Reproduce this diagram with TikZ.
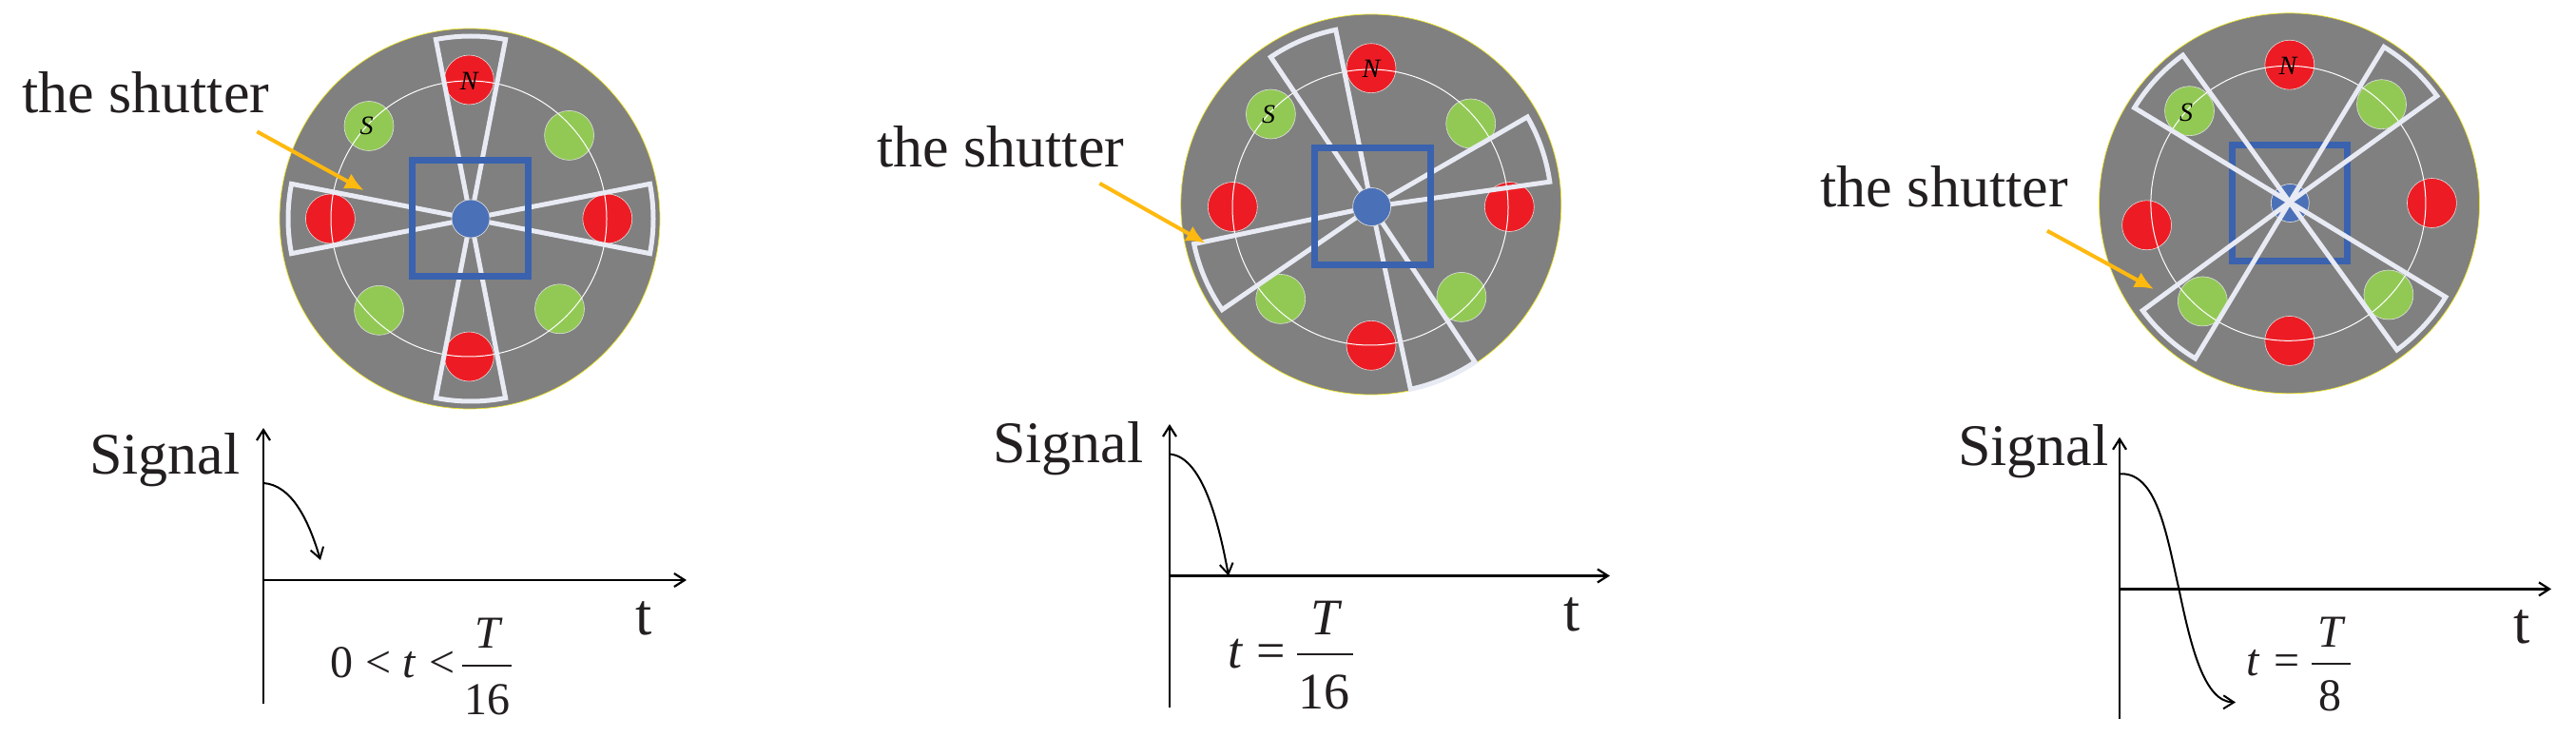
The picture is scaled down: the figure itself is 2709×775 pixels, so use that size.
\documentclass[tikz,border=0pt]{standalone}
\usepackage{fontspec}
\setmainfont{Liberation Serif}
\usetikzlibrary{arrows.meta}
\definecolor{inkc}{HTML}{231F20}
\definecolor{discc}{HTML}{808080}
\definecolor{redc}{HTML}{ED1C24}
\definecolor{greenc}{HTML}{92C955}
\definecolor{squarec}{HTML}{3A62AE}
\definecolor{hubc}{HTML}{4A70B8}
\definecolor{bladec}{HTML}{E8EAF4}
\definecolor{orangec}{HTML}{FFB90F}
\tikzset{
  disc/.style={fill=discc,draw=yellow!85!gray,line width=.7pt},
  ringline/.style={draw=white,line width=1pt},
  redpole/.style={fill=redc,draw=white!75!gray,line width=.6pt},
  greenpole/.style={fill=greenc,draw=white!75!gray,line width=.6pt},
  hubdot/.style={fill=hubc,draw=white!70!gray,line width=.7pt},
  squarebox/.style={draw=squarec,line width=7pt},
  bladeline/.style={draw=bladec,line width=5pt,line join=miter},
  pointer/.style={draw=orangec,line width=4pt,-{Latex[length=20pt,width=18pt,fill=orangec]}},
  axisline/.style={draw=black,line width=2.2pt,-{Straight Barb[length=11pt,width=14pt]}},
  curveline/.style={draw=black,line width=2pt,-{Straight Barb[length=11pt,width=14pt]}},
  fracbar/.style={draw=inkc,line width=2.4pt},
  big/.style={text=inkc,anchor=base west,inner sep=0pt,font=\fontsize{62}{62}\selectfont},
  mathp/.style={text=inkc,anchor=base,inner sep=0pt,font=\fontsize{50}{50}\selectfont},
  pole/.style={text=black,anchor=center,inner sep=0pt,font=\fontsize{28}{28}\selectfont\itshape},
}
\newcommand{\bladeshape}[5]{\draw[bladeline] (#1,-#2) -- ++(#3:#5) arc[start angle=#3,end angle=#4,radius=#5pt] -- cycle;}
\begin{document}
\begin{tikzpicture}[x=1pt,y=1pt]
\useasboundingbox (0,0) rectangle (2709,-775);

% ---- panel 1
\path[disc] (494,-230) circle[radius=200pt];
\foreach \x/\y in {493.3/84,493.3/375,347.4/230,638.8/230} \path[redpole] (\x,-\y) circle[radius=26pt];
\foreach \x/\y in {388/132.5,598.6/142.4,398.6/326.3,588.5/324.8} \path[greenpole] (\x,-\y) circle[radius=26pt];
\path[ringline] (493,-230) circle[radius=145pt];
\bladeshape{495}{230}{79}{101}{192}
\bladeshape{495}{230}{169}{191}{192}
\bladeshape{495}{230}{259}{281}{192}
\bladeshape{495}{230}{349}{371}{192}
\path[squarebox] (433.5,-169) rectangle (555,-291);
\path[hubdot] (495,-230) circle[radius=20pt];
\node[pole] (n1) at (493.3,-85) {N};
\node[pole] (s1) at (385.6,-132.5) {S};
\node[big] (shut1) at (23,-118.6) {the shutter};
\coordinate (a1s) at (270.3,-138.4);
\coordinate (a1e) at (382.8,-200.2);
\draw[pointer] (a1s) -- (a1e);
\node[big] (sig1) at (94,-498) {Signal};
\node[big] (t1) at (668,-667) {t};
\coordinate (o1) at (277,-610);
\coordinate (yb1) at (277,-740);
\coordinate (yt1) at (277,-450);
\coordinate (xe1) at (722,-610);
\draw[axisline] (yb1) -- (yt1);
\draw[axisline] (o1) -- (xe1);
\coordinate (c1s) at (277,-508);
\coordinate (c1e) at (337,-589);
\draw[curveline] (c1s) .. controls (306,-510) and (324,-545) .. (c1e);
\node[mathp,anchor=base west,font=\fontsize{48}{48}\selectfont] (e1) at (347,-712) {0\hskip 13pt<\hskip 12pt\textit{t}\hskip 14pt<};
\coordinate (b1l) at (485.6,-700);
\coordinate (b1r) at (538,-700);
\draw[fracbar] (b1l) -- (b1r);
\node[mathp,font=\fontsize{48}{48}\selectfont\itshape] (T1) at (513,-681) {T};
\node[mathp,font=\fontsize{48}{48}\selectfont] (d1) at (512,-751) {16};

% ---- panel 2
\path[disc] (1441.8,-215) circle[radius=200pt];
\foreach \x/\y in {1442/71.7,1442/363.3,1296.3/217.5,1587.3/217.5} \path[redpole] (\x,-\y) circle[radius=26pt];
\foreach \x/\y in {1336.4/120,1546.7/130,1346.7/314.4,1536.9/312.4} \path[greenpole] (\x,-\y) circle[radius=26pt];
\path[ringline] (1441,-218) circle[radius=145pt];
\bladeshape{1442.6}{217.5}{101.5}{124}{190}
\bladeshape{1442.6}{217.5}{282}{303.6}{196}
\bladeshape{1442.6}{217.5}{8}{30}{189}
\bladeshape{1442.6}{217.5}{191.8}{214.5}{191}
\path[squarebox] (1382,-156) rectangle (1504,-279);
\path[hubdot] (1442.6,-217.5) circle[radius=20pt];
\node[pole] (n2) at (1442,-72) {N};
\node[pole] (s2) at (1334,-120) {S};
\node[big] (shut2) at (922,-175.5) {the shutter};
\coordinate (a2s) at (1156.4,-192.8);
\coordinate (a2e) at (1267.5,-255.6);
\draw[pointer] (a2s) -- (a2e);
\node[big] (sig2) at (1044,-486) {Signal};
\node[big] (t2) at (1644,-663) {t};
\coordinate (o2) at (1230,-605.5);
\coordinate (yb2) at (1230,-744);
\coordinate (yt2) at (1230,-446);
\coordinate (xe2) at (1693,-605.5);
\draw[axisline] (yb2) -- (yt2);
\draw[axisline] (o2) -- (xe2);
\coordinate (c2s) at (1230,-477.5);
\coordinate (c2e) at (1292,-605.5);
\draw[curveline] (c2s) .. controls (1262,-480) and (1280,-540) .. (c2e);
\node[mathp,anchor=base west,font=\fontsize{54}{54}\selectfont] (e2) at (1291,-702) {\textit{t}\hskip 14pt=};
\coordinate (b2l) at (1364,-688);
\coordinate (b2r) at (1422.6,-688);
\draw[fracbar] (b2l) -- (b2r);
\node[mathp,font=\fontsize{54}{54}\selectfont\itshape] (T2) at (1393,-667) {T};
\node[mathp,font=\fontsize{54}{54}\selectfont] (d2) at (1392,-745) {16};

% ---- panel 3
\path[disc] (2407.5,-213.8) circle[radius=200pt];
\foreach \x/\y in {2407.8/68.2,2407.8/358.4,2257.6/236.8,2557.4/213.5} \path[redpole] (\x,-\y) circle[radius=26pt];
\foreach \x/\y in {2302.5/116.7,2504.5/109.7,2316.3/316.9,2511.9/310} \path[greenpole] (\x,-\y) circle[radius=26pt];
\path[ringline] (2406.4,-213.8) circle[radius=144.5pt];
\path[squarebox] (2347.3,-152.8) rectangle (2468.8,-274.3);
\path[hubdot] (2408.3,-213.5) circle[radius=20pt];
\bladeshape{2407.8}{212.6}{35.8}{58.7}{191}
\bladeshape{2407.8}{212.6}{126}{148.7}{191}
\bladeshape{2407.8}{212.6}{216.4}{238.9}{192}
\bladeshape{2407.8}{212.6}{306}{328.7}{192}
\node[pole] (n3) at (2406,-69) {N};
\node[pole] (s3) at (2299,-118) {S};
\node[big] (shut3) at (1914.4,-217.5) {the shutter};
\coordinate (a3s) at (2152.9,-242.7);
\coordinate (a3e) at (2265,-304);
\draw[pointer] (a3s) -- (a3e);
\node[big] (sig3) at (2059,-489) {Signal};
\node[big] (t3) at (2643,-676) {t};
\coordinate (o3) at (2229,-619.4);
\coordinate (yb3) at (2229,-756);
\coordinate (yt3) at (2229,-459.7);
\coordinate (xe3) at (2683,-619.4);
\draw[axisline] (yb3) -- (yt3);
\draw[axisline] (o3) -- (xe3);
\coordinate (c3s) at (2229,-498.3);
\coordinate (c3m) at (2291.4,-619.4);
\coordinate (c3e) at (2351,-738.5);
\draw[curveline] (c3s) .. controls (2268,-496) and (2278,-560) .. (c3m) .. controls (2304,-680) and (2318,-738) .. (c3e);
\node[mathp,anchor=base west,font=\fontsize{48}{48}\selectfont] (e3) at (2362,-710) {\textit{t}\hskip 15pt=};
\coordinate (b3l) at (2431,-698);
\coordinate (b3r) at (2472,-698);
\draw[fracbar] (b3l) -- (b3r);
\node[mathp,font=\fontsize{48}{48}\selectfont\itshape] (T3) at (2451,-680) {T};
\node[mathp,font=\fontsize{48}{48}\selectfont] (d3) at (2450.6,-747.4) {8};
\end{tikzpicture}
\end{document}
